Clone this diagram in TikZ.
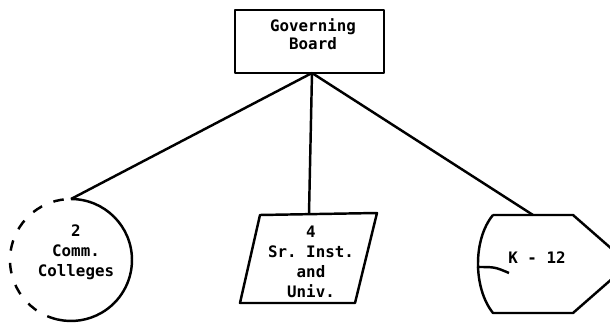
\documentclass[tikz,border=0pt]{standalone}
\usepackage{fontspec}
\setmonofont{DejaVu Sans Mono}

\begin{document}
\begin{tikzpicture}[x=0.02cm, y=0.02cm,
      outline/.style={line width=1.4pt, line join=round},
      tie/.style={line width=1.4pt},
      txt/.style={align=center, inner sep=0pt, font=\ttfamily\bfseries\fontsize{9}{11.5}\selectfont}]
    \useasboundingbox (0,0) rectangle (610,325);
    \clip (0,0) rectangle (610,325);
    % board on top
    \node[draw, outline, minimum width=2.98cm, minimum height=1.26cm, outer sep=0pt] (board) at (309.5,283.5) {};
    \node[txt] (boardtxt) at (313,291) {Governing\\[-1.3pt]Board};
    \coordinate (hub) at ([xshift=0.05cm]board.south);
    % community colleges, left half broken
    \node[circle, minimum size=2.44cm, inner sep=0pt, outer sep=0pt] (cc) at (71,65) {};
    \draw[outline] (cc.north) arc[start angle=90, end angle=-103, radius=1.22cm];
    \draw[outline, dash pattern=on 6pt off 7pt] (cc.-103) arc[start angle=-103, end angle=-270, radius=1.22cm];
    \node[txt] (cctxt) at (76,73) {2\\Comm.\\Colleges};
    % senior institutions
    \draw[outline] (240,22) -- (260,110) -- (377,112) -- (355,22) -- cycle;
    \coordinate (univtop) at (309,111);
    \node[txt] (univ) at (311,63) {4\\Sr. Inst.\\and\\Univ.};
    % K-12, point runs off the page
    \draw[outline] (493,110) -- (573,110) -- (629,61) -- (573,12) -- (493,12)
      .. controls (473,37) and (473,86) .. (493,110);
    \draw[outline] (477,58) .. controls (495,58) .. (509,52);
    \coordinate (ktop) at (533,110);
    \node[txt] (k12) at (537,67) {K - 12};
    \draw[tie] (hub) -- (cc.north);
    \draw[tie] (hub) -- (univtop);
    \draw[tie] (hub) -- (ktop);
\end{tikzpicture}
\end{document}
